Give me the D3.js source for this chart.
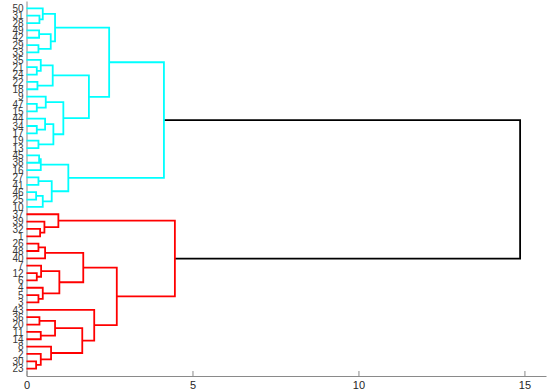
<!DOCTYPE html>
<html>
<head>
<meta charset="utf-8">
<script src="https://cdn.jsdelivr.net/npm/d3@7"></script>
<style>
  html, body { margin: 0; padding: 0; background: #fff; }
  svg { display: block; }
  text { font-family: "Liberation Sans", Arial, Helvetica, sans-serif; }
</style>
</head>
<body>
<svg id="chart" width="551" height="392"></svg>
<script>
// Observations 1..50; merged clusters are numbered 51, 52, ... in row order.
// Each row: [upper child, lower child, merge height]
const linkageRows = [
  [31, 28, 0.39], [50, 51, 0.49], [49, 42, 0.38], [29, 33, 0.36], [53, 54, 0.73],
  [52, 55, 0.86], [21, 24, 0.31], [35, 57, 0.43], [22, 18, 0.33], [58, 59, 0.79],
  [47, 15, 0.31], [9, 61, 0.58], [34, 17, 0.31], [44, 63, 0.56], [19, 13, 0.36],
  [64, 65, 0.81], [62, 66, 1.11], [60, 67, 1.88], [56, 68, 2.49], [45, 38, 0.38],
  [70, 16, 0.43], [27, 41, 0.36], [46, 25, 0.29], [73, 10, 0.49], [72, 74, 0.76],
  [71, 75, 1.26], [69, 76, 4.14], [32, 1, 0.41], [39, 78, 0.54], [37, 79, 0.96],
  [26, 48, 0.36], [81, 40, 0.56], [12, 6, 0.31], [7, 83, 0.44], [5, 3, 0.36],
  [4, 85, 0.49], [84, 86, 0.99], [82, 87, 1.71], [36, 20, 0.39], [11, 14, 0.43],
  [89, 90, 0.86], [30, 23, 0.29], [2, 92, 0.43], [8, 93, 0.74], [91, 94, 1.68],
  [43, 95, 2.04], [88, 96, 2.72], [80, 97, 4.47], [77, 98, 14.87]
];
const leafCount = 50;
const xTicks = [0, 5, 10, 15];
const clusterColors = ["#00ffff", "#ff0000"];
const colorThreshold = 10;

const svg = d3.select("#chart");
const x = d3.scaleLinear().domain([0, 15.65]).range([26.5, 546]);
const y = d3.scaleLinear().domain([0, leafCount + 1]).range([376, 1]);

// Build nested tree from the linkage rows
const nodes = {};
for (let i = 1; i <= leafCount; i++) nodes[i] = { id: i, height: 0, children: null };
linkageRows.forEach((r, k) => {
  const id = leafCount + 1 + k;
  nodes[id] = { id, height: r[2], children: [nodes[r[0]], nodes[r[1]]] };
});
const rootData = nodes[leafCount + linkageRows.length];
const root = d3.hierarchy(rootData, d => d.children);

// Leaves are laid out top to bottom in traversal order
const leaves = root.leaves();
leaves.forEach((leaf, i) => { leaf.pos = leafCount - i; });
root.eachAfter(n => {
  if (n.children) n.pos = (n.children[0].pos + n.children[1].pos) / 2;
});

// Colour groups: subtrees whose merge height is below the threshold
let groupIndex = 0;
root.eachBefore(n => {
  if (n.color) return;
  if (n.data.height < colorThreshold && n.children) {
    const c = clusterColors[groupIndex++ % clusterColors.length];
    n.each(d => { d.color = c; });
  }
});

// Axes
const xAxis = d3.axisBottom(x).tickValues(xTicks).tickSizeInner(-5).tickSizeOuter(0).tickPadding(5);
const gx = svg.append("g").attr("transform", `translate(0,${y(0)})`).call(xAxis);
gx.select(".domain").attr("stroke", "#8a8a8a");
gx.selectAll(".tick line").attr("stroke", "#8a8a8a");
gx.selectAll(".tick text").attr("fill", "#262626").style("font-size", "11px")
  .style("font-family", '"Liberation Sans", Arial, sans-serif');

const yAxis = d3.axisLeft(y)
  .tickValues(leaves.map(l => l.pos))
  .tickFormat(p => leaves.find(l => l.pos === p).data.id)
  .tickSize(0).tickPadding(3);
const gy = svg.append("g").attr("transform", `translate(${x(0)},0)`).call(yAxis);
gy.select(".domain").attr("stroke", "#8a8a8a");
gy.selectAll(".tick text").attr("fill", "#3a3a3a").style("font-size", "10px")
  .style("font-family", '"Liberation Sans", Arial, sans-serif');

// Dendrogram links (U-shaped)
const internal = root.descendants().filter(n => n.children);
svg.append("g").selectAll("path").data(internal).join("path")
  .attr("fill", "none")
  .attr("stroke", n => n.color || "#000")
  .attr("stroke-width", 1.8)
  .attr("d", n => {
    const [a, b] = n.children;
    return `M${x(a.data.height)},${y(a.pos)}H${x(n.data.height)}V${y(b.pos)}H${x(b.data.height)}`;
  });
</script>
</body>
</html>
